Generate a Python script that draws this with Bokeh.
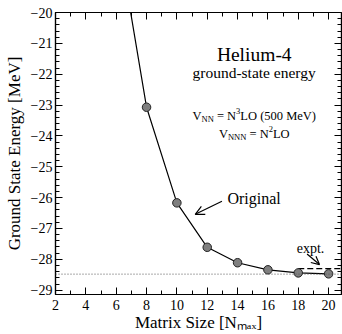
from bokeh.plotting import figure
from bokeh.models import (Label, Span, Arrow, OpenHead, LinearAxis, FixedTicker,
                          CustomJSTickFormatter, ColumnDataSource, Range1d)
from bokeh.embed import file_html
from bokeh.resources import INLINE

# ---- data ----
nmax = [6, 8, 10, 12, 14, 16, 18, 20]
energy = [-17.2, -23.07, -26.17, -27.61, -28.11, -28.34, -28.44, -28.47]
converged = -28.48
expt_energy = -28.30
expt_from = [18]
expt_to = [21]
x_ticks = [2, 4, 6, 8, 10, 12, 14, 16, 18, 20]
y_ticks = [-29, -28, -27, -26, -25, -24, -23, -22, -21, -20]

FONT = "Liberation Serif"
X_END = 20.85
Y_END = -20

p = figure(width=342, height=334, output_backend="svg", toolbar_location=None,
           x_range=Range1d(2, X_END), y_range=Range1d(-29.14, Y_END),
           min_border_left=55, min_border_right=1, min_border_top=12, min_border_bottom=36,
           x_axis_location=None, y_axis_location=None)
p.background_fill_color = "white"
p.border_fill_color = "white"
p.outline_line_color = "black"
p.outline_line_width = 1.2
p.xgrid.visible = False
p.ygrid.visible = False

fmt = CustomJSTickFormatter(code="return (tick < 0 ? '\u2212' : '') + Math.abs(tick).toFixed(0);")
blank = CustomJSTickFormatter(code="return '';")

def style_axis(ax, labels=True):
    ax.major_tick_in = 7
    ax.major_tick_out = 0
    ax.minor_tick_in = 4
    ax.minor_tick_out = 0
    ax.axis_line_width = 1.2
    ax.axis_line_color = "black"
    ax.major_tick_line_color = "black"
    ax.minor_tick_line_color = "black"
    ax.major_tick_line_width = 1
    ax.minor_tick_line_width = 1
    ax.major_label_text_font = FONT
    ax.major_label_text_font_style = "normal"
    ax.major_label_text_color = "black"
    ax.major_label_text_font_size = "14px" if labels else "1px"
    ax.major_label_standoff = 3 if labels else 0
    ax.axis_label_text_font = FONT
    ax.axis_label_text_color = "black"
    ax.axis_label_text_font_style = "normal"
    ax.axis_label_text_font_size = "17px"
    if not labels:
        ax.formatter = blank

xb = LinearAxis(ticker=FixedTicker(ticks=x_ticks, minor_ticks=list(range(2, 21))),
                axis_label="Matrix Size [N\u2098\u2090\u2093]")
style_axis(xb)
xb.major_label_standoff = 5
xb.axis_label_standoff = 0
xt = LinearAxis(ticker=FixedTicker(ticks=x_ticks, minor_ticks=list(range(2, 21))),
                fixed_location=Y_END)
style_axis(xt, labels=False)

minor_y = [round(-29.2 + 0.2 * i, 2) for i in range(0, 47)]
yl = LinearAxis(ticker=FixedTicker(ticks=y_ticks, minor_ticks=minor_y), formatter=fmt,
                axis_label="Ground State Energy [MeV]")
style_axis(yl)
yl.axis_label_standoff = 4
yr = LinearAxis(ticker=FixedTicker(ticks=y_ticks, minor_ticks=minor_y), fixed_location=X_END)
style_axis(yr, labels=False)

p.add_layout(xb, "below")
p.add_layout(xt, "above")
p.add_layout(yl, "left")
p.add_layout(yr, "right")

# reference lines
p.add_layout(Span(location=converged, dimension="width", line_color="#555555",
                  line_dash="1 2", line_width=1))
p.segment(x0=expt_from, x1=expt_to, y0=[expt_energy], y1=[expt_energy],
          line_color="black", line_dash="6 3", line_width=1.3)

src = ColumnDataSource(dict(n=nmax, e=energy))
p.line("n", "e", source=src, line_color="black", line_width=1.2)
p.scatter("n", "e", source=src, size=8.5, fill_color="#7f7f7f", line_color="#222222", line_width=1)

# text helper with Times-like widths
Wd = {' ': 250, '(': 333, ')': 333, '-': 333, '.': 250, '=': 564, '[': 333, ']': 333,
      'A': 722, 'E': 611, 'G': 722, 'H': 722, 'L': 611, 'M': 889, 'N': 722, 'O': 722,
      'S': 556, 'V': 722,
      'a': 444, 'd': 500, 'e': 444, 'g': 500, 'i': 278, 'l': 278, 'm': 778, 'n': 500,
      'o': 500, 'p': 500, 'r': 333, 's': 389, 't': 278, 'u': 500, 'x': 500, 'y': 500, 'z': 444}

def tw(s, size):
    return sum(Wd.get(c, 500) for c in s) * size / 1000.0

def rich(x, y, pieces, align="center"):
    total = sum(tw(t, sz) for t, sz, dy in pieces)
    off = -total / 2 if align == "center" else 0
    for t, sz, dy in pieces:
        lead = len(t) - len(t.lstrip())
        off += lead * 250 * sz / 1000.0
        core = t.strip()
        p.add_layout(Label(x=x, y=y, x_offset=off, y_offset=dy, text=core,
                           text_font=FONT, text_font_size=f"{sz}px",
                           text_font_style="normal",
                           text_baseline="alphabetic", text_align="left",
                           text_color="black"))
        off += tw(core, sz)
        trail = len(t) - len(t.rstrip())
        off += trail * 250 * sz / 1000.0

rich(15.1, -21.36, [("Helium-4", 19.5, 0)])
rich(15.1, -21.94, [("ground-state energy", 15.5, 0)])
rich(15.1, -23.35, [("V", 12.5, 0), ("NN", 8.5, -3), (" = N", 12.5, 0), ("3", 8.5, 5),
                    ("LO (500 MeV)", 12.5, 0)])
rich(15.1, -23.93, [("V", 12.5, 0), ("NNN", 8.5, -3), (" = N", 12.5, 0), ("2", 8.5, 5),
                    ("LO", 12.5, 0)])
rich(13.33, -26.04, [("Original", 16, 0)], align="left")
rich(17.9, -27.64, [("expt.", 14, 0)], align="left")

p.add_layout(Arrow(end=OpenHead(size=9, line_width=1.2), x_start=12.97, y_start=-26.12,
                   x_end=11.21, y_end=-26.54, line_width=1.2))
p.add_layout(Arrow(end=OpenHead(size=8, line_width=1.2), x_start=18.58, y_start=-27.83,
                   x_end=19.40, y_end=-28.17, line_width=1.2))

open("out.html", "w").write(file_html(p, INLINE))
